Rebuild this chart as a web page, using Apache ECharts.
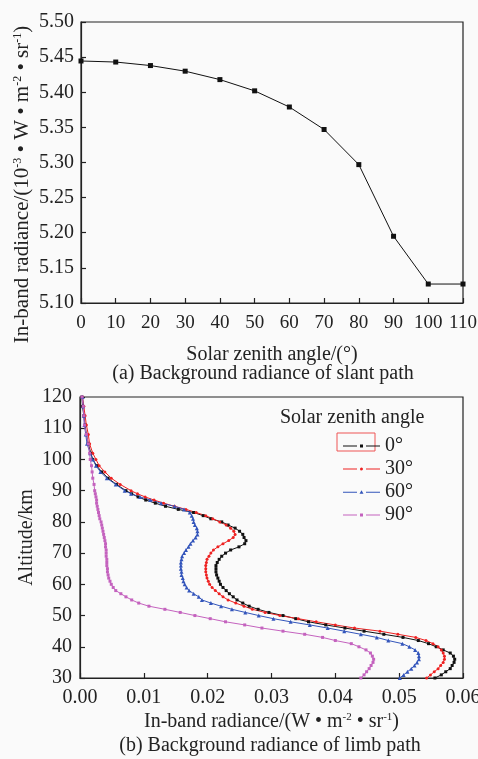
<!DOCTYPE html>
<html><head><meta charset="utf-8">
<script src="https://cdn.jsdelivr.net/npm/echarts@6/dist/echarts.min.js"></script>
<style>html,body{margin:0;padding:0;background:#fafafa}#c{width:478px;height:759px}</style>
</head><body><div id="c"></div>
<script>
// ---- (a) slant path ----
const slantAngles = [0, 10, 20, 30, 40, 50, 60, 70, 80, 90, 100, 110];
const slantRadiance = [5.4445, 5.443, 5.438, 5.430, 5.418, 5.402, 5.379, 5.347, 5.297, 5.195, 5.127, 5.127];

// ---- (b) limb path ----
const altitudes = [120,117,114,111,108,105,102,100,98,96,94,92,90,89,88,87,86,85,84,83,82,81,80,79,78,77,76,75,74,73,72,71,70,69,68,67,66,65,64,63,62,61,60,59,58,57,56,55,54,53,52,51,50,49,48,47,46,45,44,43,42,41,40,39,38,37,36,35,34,33,32,31,30];
const limb0 = [0.0003,0.0004,0.0006,0.0008,0.0010,0.0013,0.0017,0.0020,0.0026,0.0034,0.0044,0.0057,0.0072,0.0081,0.0091,0.0103,0.0118,0.0134,0.0154,0.0178,0.0193,0.0205,0.0222,0.0232,0.0243,0.0250,0.0255,0.0257,0.0260,0.0258,0.0249,0.0236,0.0228,0.0222,0.0218,0.0215,0.0213,0.0213,0.0213,0.0214,0.0216,0.0218,0.0220,0.0224,0.0229,0.0234,0.0240,0.0246,0.0255,0.0265,0.0279,0.0296,0.0318,0.0338,0.0358,0.0385,0.0415,0.0445,0.0476,0.0506,0.0530,0.0546,0.0558,0.0569,0.0580,0.0585,0.0587,0.0586,0.0583,0.0580,0.0573,0.0566,0.0556];
const limb30 = [0.0004,0.0006,0.0008,0.0010,0.0013,0.0015,0.0020,0.0025,0.0030,0.0039,0.0049,0.0063,0.0080,0.0090,0.0102,0.0116,0.0131,0.0148,0.0166,0.0182,0.0197,0.0208,0.0219,0.0229,0.0236,0.0241,0.0243,0.0240,0.0233,0.0224,0.0216,0.0209,0.0205,0.0202,0.0199,0.0198,0.0197,0.0197,0.0197,0.0198,0.0199,0.0201,0.0203,0.0207,0.0212,0.0218,0.0224,0.0232,0.0244,0.0257,0.0270,0.0290,0.0313,0.0342,0.0370,0.0400,0.0430,0.0470,0.0498,0.0526,0.0542,0.0553,0.0561,0.0566,0.0569,0.0571,0.0571,0.0569,0.0565,0.0561,0.0555,0.0549,0.0543];
const limb60 = [0.0004,0.0005,0.0006,0.0007,0.0009,0.0011,0.0016,0.0020,0.0025,0.0032,0.0042,0.0056,0.0070,0.0080,0.0094,0.0110,0.0127,0.0148,0.0163,0.0172,0.0175,0.0177,0.0178,0.0180,0.0183,0.0184,0.0184,0.0181,0.0177,0.0173,0.0170,0.0166,0.0163,0.0160,0.0159,0.0158,0.0158,0.0158,0.0159,0.0159,0.0161,0.0162,0.0164,0.0167,0.0171,0.0178,0.0186,0.0191,0.0205,0.0221,0.0238,0.0259,0.0280,0.0303,0.0330,0.0360,0.0388,0.0414,0.0440,0.0465,0.0483,0.0505,0.0516,0.0525,0.0530,0.0531,0.0531,0.0528,0.0524,0.0519,0.0513,0.0507,0.0501];
const limb90 = [0.0003,0.0005,0.0006,0.0007,0.0010,0.0013,0.0015,0.0016,0.0018,0.0019,0.0020,0.0022,0.0023,0.0024,0.0025,0.0026,0.0026,0.0027,0.0028,0.0029,0.0030,0.0031,0.0033,0.0034,0.0035,0.0036,0.0037,0.0038,0.0039,0.0040,0.0040,0.0041,0.0041,0.0041,0.0042,0.0042,0.0042,0.0043,0.0043,0.0044,0.0045,0.0047,0.0049,0.0052,0.0056,0.0064,0.0072,0.0081,0.0092,0.0108,0.0133,0.0157,0.0180,0.0204,0.0228,0.0258,0.0285,0.0318,0.0352,0.0380,0.0400,0.0425,0.0437,0.0448,0.0455,0.0458,0.0460,0.0459,0.0456,0.0453,0.0449,0.0445,0.0440];
const legendNames = ['0°', '30°', '60°', '90°'];
const legendTitle = 'Solar zenith angle';
const captionA = '(a) Background radiance of slant path';
const captionB = '(b) Background radiance of limb path';

const FONT = 'Liberation Serif';
const TXT = '#222';
const colors = ['#111111', '#ee2222', '#3355bb', '#c462be'];
const symbols = ['rect', 'circle', 'triangle', 'rect'];
const symSizes = [3, 3, 4, 3];
const limbSeries = [limb0, limb30, limb60, limb90];

const legendIcons = [
  'path://M0,1.5h14v1h-14z M17,0.5h3v3h-3z M23,1.5h14v1h-14z',
  'path://M0,1.5h14v1h-14z M18.5,0.5 A1.5,1.5 0 1,1 18.49,0.5z M23,1.5h14v1h-14z',
  'path://M0,1.5h14v1h-14z M18.5,0 L20.5,3.6 L16.5,3.6z M23,1.5h14v1h-14z',
  'path://M0,1.5h14v1h-14z M17,0.5h3v3h-3z M23,1.5h14v1h-14z'
];

const axisBase = {
  axisLine: { show: true, lineStyle: { color: TXT, width: 1.2 } },
  axisTick: { show: true, inside: true, length: 5, lineStyle: { color: TXT, width: 1.2 } },
  splitLine: { show: false },
  axisLabel: { color: TXT, fontFamily: FONT, fontSize: 20 },
  nameTextStyle: { color: TXT, fontFamily: FONT, fontSize: 20 }
};
function ax(extra) {
  const o = JSON.parse(JSON.stringify(axisBase));
  for (const k in extra) {
    if (typeof extra[k] === 'object' && o[k] && !Array.isArray(extra[k])) o[k] = Object.assign(o[k], extra[k]);
    else o[k] = extra[k];
  }
  return o;
}
const supStyle = { fontSize: 11, verticalAlign: 'top', fontFamily: FONT, color: TXT };
const supStyleBig = { fontSize: 12, verticalAlign: 'top', fontFamily: FONT, color: TXT };

const chart = echarts.init(document.getElementById('c'), null, { renderer: 'canvas' });
const series = [{
  type: 'line', xAxisIndex: 0, yAxisIndex: 0,
  data: slantAngles.map((a, i) => [a, slantRadiance[i]]),
  symbol: 'rect', symbolSize: 5,
  lineStyle: { color: '#111', width: 1 }, itemStyle: { color: '#111' }
}];
limbSeries.forEach((arr, k) => {
  series.push({
    type: 'line', name: legendNames[k], xAxisIndex: 1, yAxisIndex: 1,
    data: altitudes.map((a, i) => [arr[i], a]),
    symbol: symbols[k], symbolSize: symSizes[k],
    lineStyle: { color: colors[k], width: 1 }, itemStyle: { color: colors[k] }
  });
});

chart.setOption({
  backgroundColor: '#fafafa',
  animation: false,
  textStyle: { fontFamily: FONT, color: TXT },
  grid: [
    { left: 81, top: 22, width: 382, height: 281, show: true, borderColor: TXT, borderWidth: 1.2, backgroundColor: 'transparent', outerBoundsMode: 'none' },
    { left: 80, top: 397, width: 383, height: 281, show: true, borderColor: TXT, borderWidth: 1.2, backgroundColor: 'transparent', outerBoundsMode: 'none' }
  ],
  xAxis: [
    ax({ type: 'value', gridIndex: 0, min: 0, max: 110, interval: 10,
      axisLabel: { fontSize: 19, margin: 11 },
      name: 'Solar zenith angle/(°)', nameLocation: 'middle', nameGap: 42 }),
    ax({ type: 'value', gridIndex: 1, min: 0, max: 0.06, interval: 0.01,
      axisLabel: { margin: 10, formatter: v => v.toFixed(2) },
      name: 'In-band radiance/(W • m{s|-2} • sr{s|-1})', nameLocation: 'middle', nameGap: 34,
      nameTextStyle: { rich: { s: supStyle } } })
  ],
  yAxis: [
    ax({ type: 'value', gridIndex: 0, min: 5.10, max: 5.50, interval: 0.05,
      axisLabel: { margin: 7, formatter: v => v.toFixed(2) },
      name: 'In-band radiance/(10{s|-3} • W • m{s|-2} • sr{s|-1})', nameLocation: 'middle', nameGap: 48,
      nameMoveOverlap: false,
      nameTextStyle: { fontSize: 21, padding: [0, 44, 0, 0], rich: { s: supStyleBig } } }),
    ax({ type: 'value', gridIndex: 1, min: 30, max: 120, interval: 10,
      axisLabel: { margin: 8 },
      name: 'Altitude/km', nameLocation: 'middle', nameGap: 43, nameMoveOverlap: false })
  ],
  legend: {
    orient: 'vertical', left: 338, top: 431, itemWidth: 37, itemHeight: 4, itemGap: 3,
    selectedMode: false,
    itemStyle: { borderWidth: 0 },
    textStyle: { fontFamily: FONT, fontSize: 20, color: TXT, padding: [0, 0, 0, 0] },
    data: legendNames.map((n, i) => ({ name: n, icon: legendIcons[i] }))
  },
  graphic: [
    { type: 'text', x: 280, y: 418, style: { text: legendTitle, font: '20px ' + FONT, fill: TXT, textVerticalAlign: 'middle' } },
    { type: 'rect', shape: { x: 337, y: 433, width: 38, height: 18 }, style: { fill: 'none', stroke: '#ee5555', lineWidth: 1 } },
    { type: 'text', x: 263, y: 374, style: { text: captionA, font: '20px ' + FONT, fill: TXT, textAlign: 'center', textVerticalAlign: 'middle' } },
    { type: 'text', x: 270, y: 746, style: { text: captionB, font: '20px ' + FONT, fill: TXT, textAlign: 'center', textVerticalAlign: 'middle' } }
  ],
  series: series
});
</script>
</body></html>
